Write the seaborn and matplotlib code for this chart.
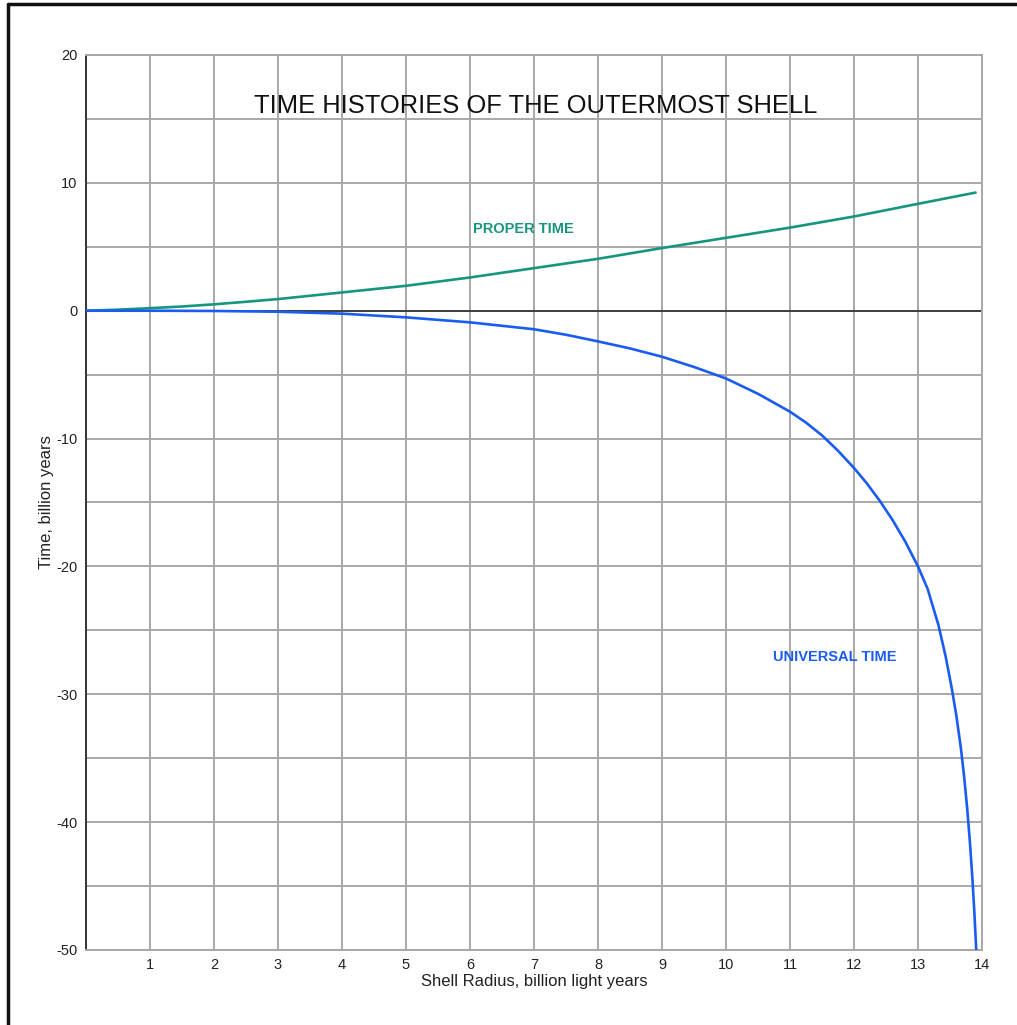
import numpy as np
import pandas as pd
import matplotlib
matplotlib.use("Agg")
import matplotlib.pyplot as plt
from matplotlib.lines import Line2D
import seaborn as sns

# ---- data ----
proper_x = [0, 0.5, 1, 1.5, 2, 2.5, 3, 4, 5, 6, 7, 8, 9, 10, 11, 12, 13, 13.9]
proper_y = [0, 0.08, 0.2, 0.33, 0.5, 0.7, 0.91, 1.43, 1.95, 2.6, 3.33, 4.06, 4.9,
            5.7, 6.5, 7.37, 8.36, 9.24]

universal_x = [0, 1, 2, 3, 4, 5, 6, 7, 7.5, 8, 8.5, 9, 9.5, 10, 10.5, 11, 11.25, 11.5,
               11.75, 12, 12.2, 12.4, 12.6, 12.8, 13, 13.15, 13.32, 13.43, 13.53,
               13.6, 13.67, 13.72, 13.77, 13.81, 13.85, 13.88, 13.91]
universal_y = [0, 0, -0.02, -0.08, -0.23, -0.52, -0.91, -1.45, -1.88, -2.4, -2.95,
               -3.6, -4.4, -5.3, -6.5, -7.9, -8.75, -9.75, -10.95, -12.3, -13.5,
               -14.85, -16.35, -18.05, -20.0, -21.75, -24.6, -27.0, -29.6, -31.7,
               -34.2, -36.4, -39.0, -41.5, -44.4, -47.0, -50]

x_ticks = list(range(1, 15))
y_ticks = [-50, -40, -30, -20, -10, 0, 10, 20]

title = "TIME HISTORIES OF THE OUTERMOST SHELL"
xlabel = "Shell Radius, billion light years"
ylabel = "Time, billion years"

TEAL = "#17967d"
BLUE = "#1a5cf0"
GRID = "#a8a8a8"

sns.set_theme(style="white")
plt.rcParams["font.family"] = ["Liberation Sans", "DejaVu Sans"]
plt.rcParams["axes.unicode_minus"] = False

fig = plt.figure(figsize=(10.17, 10.25), dpi=100)
ax = fig.add_axes([86/1017, 1-950/1025, (982-86)/1017, (950-55)/1025])

df_p = pd.DataFrame({"x": proper_x, "y": proper_y})
df_u = pd.DataFrame({"x": universal_x, "y": universal_y})

ax.set_xlim(0, 14)
ax.set_ylim(-50, 20)

# grid
ax.set_xticks(x_ticks)
ax.set_xticks(range(0, 15), minor=True)
ax.set_yticks(y_ticks)
ax.set_yticks(range(-50, 21, 5), minor=True)
ax.grid(which="both", color=GRID, linewidth=1.4, zorder=0)
ax.set_axisbelow(True)

ax.axhline(0, color="#222222", linewidth=1.1, zorder=1)

sns.lineplot(data=df_p, x="x", y="y", ax=ax, color=TEAL, linewidth=1.9, zorder=3)
sns.lineplot(data=df_u, x="x", y="y", ax=ax, color=BLUE, linewidth=1.9, zorder=3)

ax.tick_params(axis="both", which="major", labelsize=10.5, labelcolor="#222222",
               length=3, color="#555555", width=1)
ax.tick_params(axis="both", which="minor", length=0)
ax.tick_params(axis="x", pad=3)
ax.tick_params(axis="y", pad=3)

for s in ["top", "right", "bottom"]:
    ax.spines[s].set_visible(True)
    ax.spines[s].set_color(GRID)
    ax.spines[s].set_linewidth(1.4)
ax.spines["left"].set_color("#333333")
ax.spines["left"].set_linewidth(1.4)

ax.set_xlabel(xlabel, fontsize=12, color="#222222", labelpad=1)
ax.set_ylabel(ylabel, fontsize=12, color="#222222", labelpad=2)

ax.text(7.02, 16.0, title, fontsize=18.4, color="#111111", ha="center", va="center")
ax.text(6.83, 6.4, "PROPER TIME", fontsize=10.5, fontweight="bold", color=TEAL,
        ha="center", va="center")
ax.text(11.7, -27.1, "UNIVERSAL TIME", fontsize=10.5, fontweight="bold", color=BLUE,
        ha="center", va="center")

# outer frame (left and top edges visible)
fig.add_artist(Line2D([8/1017, 8/1017], [0, 1-4/1025], color="#111111", linewidth=2.5,
                      transform=fig.transFigure))
fig.add_artist(Line2D([8/1017, 1], [1-4/1025, 1-4/1025], color="#111111", linewidth=2.5,
                      transform=fig.transFigure))

fig.savefig("out.png", dpi=100)
